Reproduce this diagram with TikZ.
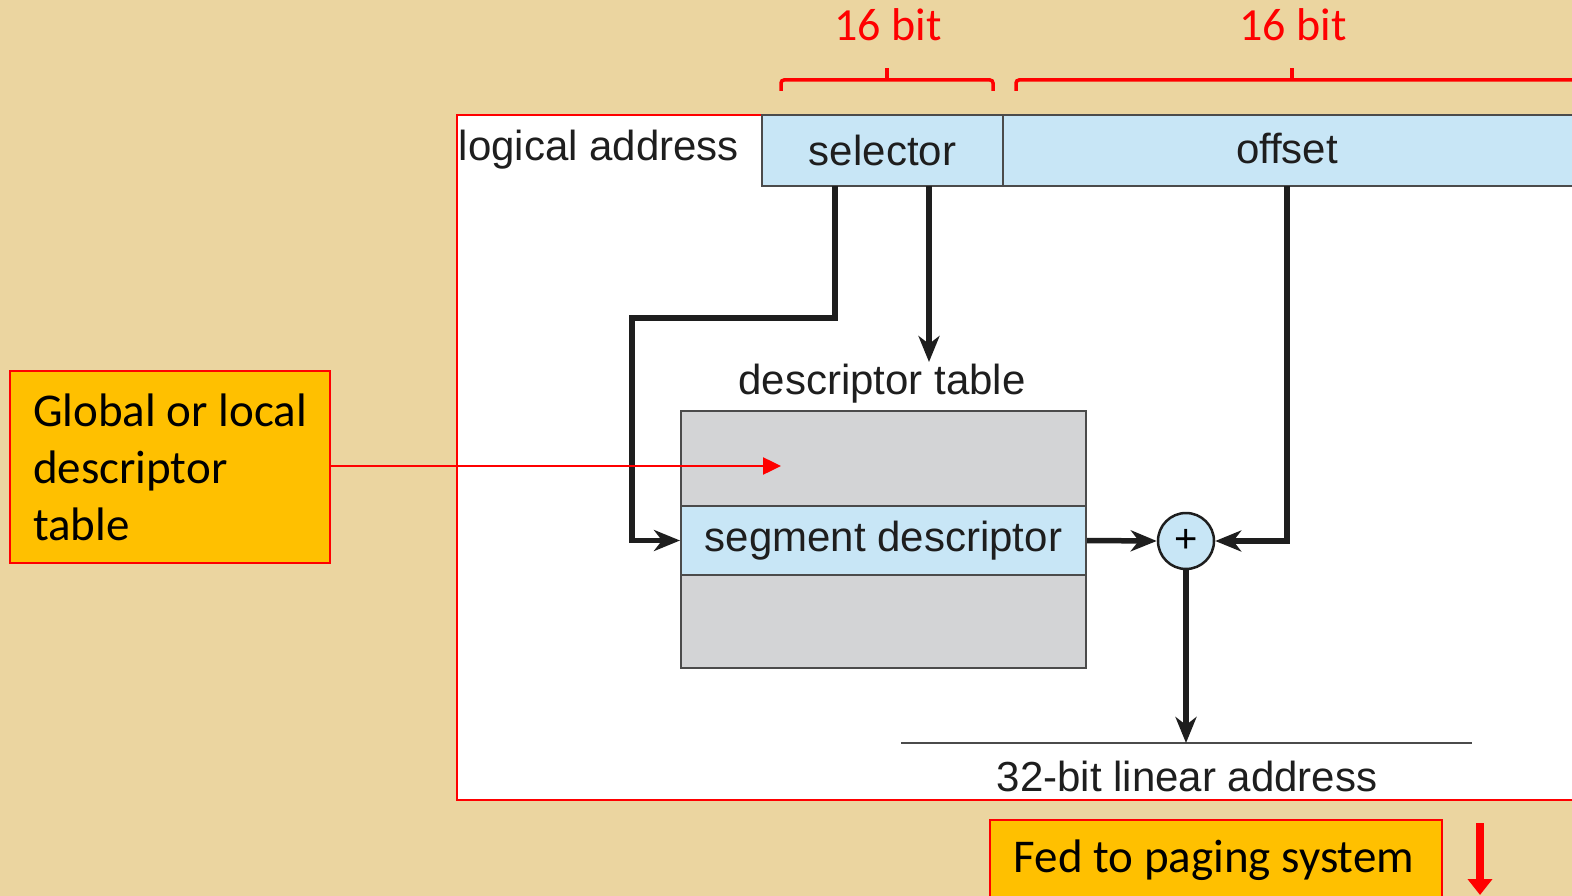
\documentclass[tikz,border=0pt]{standalone}
\usepackage{fontspec}
\setmainfont{Liberation Sans}
\newfontfamily\calib{Carlito}
\usetikzlibrary{arrows.meta}
\definecolor{parch}{HTML}{EBD5A0}
\definecolor{lblue}{HTML}{C8E6F6}
\definecolor{tgray}{HTML}{D3D4D6}
\definecolor{orng}{HTML}{FFC000}
\definecolor{ered}{HTML}{FF0000}
\definecolor{ink}{HTML}{1E1E1E}
\tikzset{
  diag/.style={font=\fontsize{42}{48}\selectfont, text=ink},
  cell/.style={draw=ink!80, line width=2pt, fill=lblue, inner sep=0pt, diag},
  callout/.style={draw=ered, line width=2.5pt, fill=orng, inner sep=0pt, font=\calib\fontsize{47}{57}\selectfont},
  bitlabel/.style={text=ered, font=\calib\fontsize{46}{50}\selectfont},
  flow/.style={draw=ink, line width=5.5pt, -{Stealth[length=26pt,width=21pt,inset=8pt]}},
  brace/.style={draw=ered, line width=3.5pt, rounded corners=3pt},
}
\begin{document}
\begin{tikzpicture}[x=1pt,y=-1pt]
\useasboundingbox (0,0) rectangle (1572,896);
\clip (0,0) rectangle (1572,896);
\fill[parch] (0,0) rectangle (1572,896);
% main white frame
\node[draw=ered, line width=2.5pt, fill=white, minimum width=1140pt, minimum height=685pt, inner sep=0pt] (frame) at (1027,457.5) {};
% logical address row
\node[diag] (lalabel) at (599,150) {logical address};
\node[cell, minimum width=241pt, minimum height=71pt] (sel) at (882.5,150.5) {selector};
\node[cell, minimum width=600pt, minimum height=71pt] (off) at (1303,150.5) {};
\node[diag] (offtxt) at (1287,149) {offset};
% braces
\draw[brace] (781,91) -- (781,80) -- (993,80) -- (993,91);
\draw[brace] (887,80) -- (887,68);
\draw[brace] (1016,91) -- (1016,80) -- (1580,80);
\draw[brace] (1292,80) -- (1292,68);
\node[bitlabel] (b1) at (888,25) {16 bit};
\node[bitlabel] (b2) at (1293,25) {16 bit};
% descriptor table
\node[diag] (dtlabel) at (882,384) {descriptor table};
\node[draw=ink!80, line width=2pt, fill=tgray, minimum width=405pt, minimum height=257pt, inner sep=0pt] (table) at (883.5,539.5) {};
\node[cell, minimum width=405pt, minimum height=69pt] (seg) at (883.5,540.5) {segment descriptor};
% adder
\node[draw=ink, line width=2.5pt, fill=lblue, circle, minimum size=56pt, inner sep=0pt, font=\fontsize{40}{40}\selectfont] (plus) at (1186,541) {+};
% linear address
\coordinate (la) at (901,743);
\coordinate (lb) at (1472,743);
\draw[ink!80, line width=2.2pt] (la) -- (lb);
\node[diag] (lin) at (1187,776) {32-bit linear address};
% connectors
\coordinate (s1) at (835,186);
\coordinate (s2) at (929,186);
\coordinate (o1) at (1287,186);
\coordinate (dtop) at (929,362);
\draw[flow] (s1) -- (835,318) -- (632,318) |- (seg.west);
\draw[flow] (s2) -- (dtop);
\draw[flow] (seg.east) -- (plus.west);
\draw[flow] (o1) |- (plus.east);
\draw[flow] (plus.south) -- (plus.south |- la);
% callouts
\node[callout, minimum width=320pt, minimum height=192pt, align=left] (glob) at (170,467) {Global or local\\descriptor\\table};
\coordinate (gtip) at (781,466);
\draw[ered, line width=2.5pt, -{Triangle[length=18pt,width=17pt]}] (glob.east |- gtip) -- (gtip);
\node[callout, minimum width=452pt, minimum height=88pt] (fed) at (1216,864) {};
\node[font=\calib\fontsize{47}{57}\selectfont] (fedtxt) at (1214,860) {Fed to paging system};
\coordinate (r1) at (1480,823);
\coordinate (r2) at (1480,895);
\draw[ered, line width=8pt, -{Triangle[length=16pt,width=24pt]}] (r1) -- (r2);
\end{tikzpicture}
\end{document}
